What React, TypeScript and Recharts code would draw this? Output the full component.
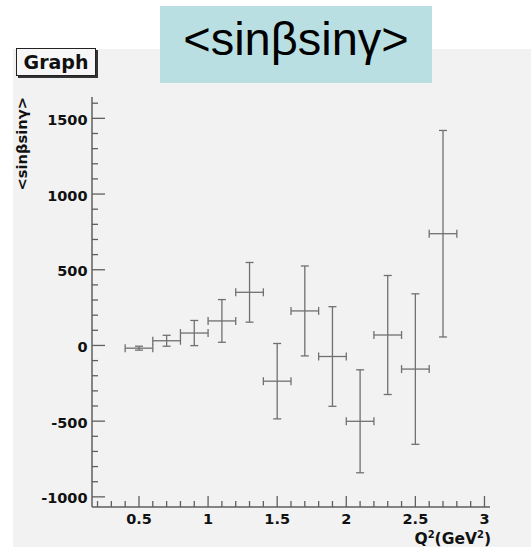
import React from "react";
import { ScatterChart, Scatter, XAxis, YAxis, ErrorBar } from "recharts";

// Q^2 bins (GeV^2) and half-widths
const q2 = [0.5, 0.7, 0.9, 1.1, 1.3, 1.5, 1.7, 1.9, 2.1, 2.3, 2.5, 2.7];
const q2Err = [0.1, 0.1, 0.1, 0.1, 0.1, 0.1, 0.1, 0.1, 0.1, 0.1, 0.1, 0.1];
// <sinβsinγ> and its error
const sinSin = [-18, 31, 82, 162, 351, -236, 228, -73, -501, 69, -156, 738];
const sinSinErr = [13, 36, 83, 141, 197, 249, 297, 329, 340, 393, 497, 682];

const xTicks = [
  0.2, 0.3, 0.4, 0.5, 0.6, 0.7, 0.8, 0.9, 1, 1.1, 1.2, 1.3, 1.4, 1.5, 1.6,
  1.7, 1.8, 1.9, 2, 2.1, 2.2, 2.3, 2.4, 2.5, 2.6, 2.7, 2.8, 2.9, 3,
];
const xTickLabels = ["0.5", "1", "1.5", "2", "2.5", "3"];
const yTicks = [
  -1000, -900, -800, -700, -600, -500, -400, -300, -200, -100, 0, 100, 200,
  300, 400, 500, 600, 700, 800, 900, 1000, 1100, 1200, 1300, 1400, 1500, 1600,
];
const yTickLabels = ["-1000", "-500", "0", "500", "1000", "1500"];

const data = q2.map((x, i) => ({
  x,
  y: sinSin[i],
  ex: q2Err[i],
  ey: sinSinErr[i],
}));

const FONT = "'DejaVu Sans', Verdana, sans-serif";
const TITLE_FONT = "'Liberation Sans', Arial, Helvetica, sans-serif";
const AXIS = "#5f5f5f";
const BAR = "#707070";

const XTick = (props: any) => {
  const { x, y, payload } = props;
  const label = String(payload.value);
  const major = xTickLabels.includes(label);
  return (
    <g>
      <line x1={x} x2={x} y1={y} y2={y - (major ? 11 : 6)} stroke={AXIS} strokeWidth={1.3} />
      {major && (
        <text x={x} y={y + 17} textAnchor="middle" fontFamily={FONT} fontWeight="bold" fontSize={14.5} fill="#111">
          {label}
        </text>
      )}
    </g>
  );
};

const YTick = (props: any) => {
  const { x, y, payload } = props;
  const label = String(payload.value);
  const major = yTickLabels.includes(label);
  return (
    <g>
      <line x1={x} x2={x + (major ? 13 : 6)} y1={y} y2={y} stroke={AXIS} strokeWidth={1.3} />
      {major && (
        <text x={x - 4.5} y={y + 6.5} textAnchor="end" fontFamily={FONT} fontWeight="bold" fontSize={14.5} fill="#111">
          {label}
        </text>
      )}
    </g>
  );
};

const YTitle = (props: any) => {
  const { viewBox } = props;
  const x = viewBox.x + 26.5;
  const y = viewBox.y;
  return (
    <text
      x={x}
      y={y}
      transform={`rotate(-90, ${x}, ${y})`}
      textAnchor="end"
      fontFamily={FONT}
      fontWeight="bold"
      fontSize={14.7}
      fill="#111"
    >
      {"<sinβsinγ>"}
    </text>
  );
};

const XTitle = (props: any) => {
  const { viewBox } = props;
  return (
    <text
      x={viewBox.x + viewBox.width + 1}
      y={viewBox.y + 36.5}
      textAnchor="end"
      fontFamily={FONT}
      fontWeight="bold"
      fontSize={15.5}
      fill="#111"
    >
      Q<tspan fontSize={10} dy={-6}>2</tspan>
      <tspan dy={6}>(GeV</tspan>
      <tspan fontSize={10} dy={-6}>2</tspan>
      <tspan dy={6}>)</tspan>
    </text>
  );
};

export default function App() {
  return (
    <div style={{ position: "absolute", left: 0, top: 0, width: 531, height: 556, background: "#fff" }}>
      {/* ROOT canvas panel */}
      <div style={{ position: "absolute", left: 13, top: 49, width: 518, height: 498, background: "#f2f2f2" }} />
      <div style={{ position: "absolute", left: 0, top: 0 }}>
        <ScatterChart width={531} height={556} margin={{ top: 97, right: 41, bottom: 9, left: 0 }}>
          <XAxis
            type="number"
            dataKey="x"
            domain={[0.16, 3.04]}
            allowDataOverflow
            ticks={xTicks}
            interval={0}
            tickSize={0}
            tickMargin={0}
            tickLine={false}
            tick={<XTick />}
            height={40}
            axisLine={{ stroke: AXIS, strokeWidth: 1.5 }}
            label={<XTitle />}
          />
          <XAxis
            xAxisId="top"
            orientation="top"
            type="number"
            domain={[0.16, 3.04]}
            height={0}
            tick={false}
            tickLine={false}
            axisLine={{ stroke: "#8a8a8a", strokeWidth: 1.2 }}
          />
          <YAxis
            type="number"
            dataKey="y"
            domain={[-1067, 1641]}
            allowDataOverflow
            ticks={yTicks}
            interval={0}
            tickSize={0}
            tickMargin={0}
            tickLine={false}
            tick={<YTick />}
            width={92}
            axisLine={{ stroke: AXIS, strokeWidth: 1.5 }}
            label={<YTitle />}
          />
          <YAxis
            yAxisId="right"
            orientation="right"
            type="number"
            domain={[-1067, 1641]}
            width={0}
            tick={false}
            tickLine={false}
            axisLine={{ stroke: "#8a8a8a", strokeWidth: 1.5 }}
          />
          <Scatter data={data} isAnimationActive={false} shape={() => <g />}>
            <ErrorBar dataKey="ex" direction="x" width={4} stroke={BAR} strokeWidth={1.3} />
            <ErrorBar dataKey="ey" direction="y" width={4} stroke={BAR} strokeWidth={1.3} />
          </Scatter>
        </ScatterChart>
      </div>
      {/* stats-style "Graph" box */}
      <div
        style={{
          position: "absolute",
          left: 16,
          top: 48,
          width: 78,
          height: 26,
          background: "#f7f7f7",
          border: "1px solid #222",
          boxShadow: "2px 2px 0 #333",
          fontFamily: FONT,
          fontWeight: "bold",
          fontSize: 19,
          lineHeight: "26px",
          textAlign: "center",
          color: "#111",
        }}
      >
        Graph
      </div>
      {/* title banner */}
      <div
        style={{
          position: "absolute",
          left: 160,
          top: 6,
          width: 272,
          height: 77,
          background: "#badfe2",
          fontFamily: TITLE_FONT,
          fontSize: 47,
          lineHeight: "66px",
          textAlign: "center",
          color: "#000",
          whiteSpace: "nowrap",
        }}
      >
        {"<sinβsinγ>"}
      </div>
    </div>
  );
}
